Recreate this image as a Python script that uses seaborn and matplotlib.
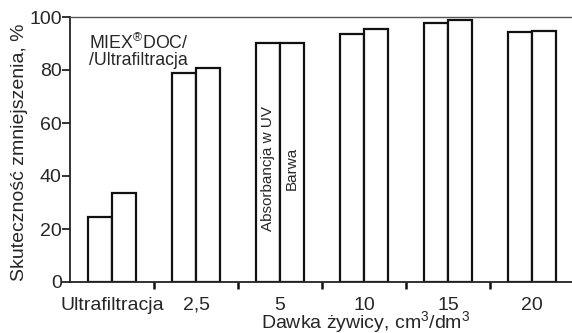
import matplotlib
matplotlib.use("Agg")
import matplotlib.pyplot as plt
import seaborn as sns
import pandas as pd
import numpy as np

categories = ["Ultrafiltracja", "2,5", "5", "10", "15", "20"]
absorbancja = [24.6, 78.7, 90.1, 93.6, 97.6, 94.2]
barwa = [33.5, 80.9, 90.1, 95.4, 98.8, 94.7]
series = ["Absorbancja w UV", "Barwa"]

sns.set_theme(style="white")
plt.rcParams['font.family'] = ['Liberation Sans', 'DejaVu Sans']
plt.rcParams['mathtext.fontset'] = 'custom'
plt.rcParams['mathtext.rm'] = 'Liberation Sans'
plt.rcParams['xtick.bottom'] = True
plt.rcParams['ytick.left'] = True

df = pd.DataFrame({
    "kat": categories * 2,
    "seria": [series[0]] * len(categories) + [series[1]] * len(categories),
    "val": absorbancja + barwa,
})

fig = plt.figure(figsize=(5.72, 3.33), dpi=100)
ax = fig.add_axes([70/572, 1 - 282/333, 1 - 70/572 + 0.004, (282 - 17)/333])

sns.barplot(data=df, x="kat", y="val", hue="seria", order=categories,
            hue_order=series, palette=["white", "white"], edgecolor="#111111",
            linewidth=1.6, width=0.57, gap=0, dodge=True, legend=False, ax=ax)

fs = 14
ax.set_xlim(-0.5, 5.5)
ax.set_ylim(0, 100)
ax.set_yticks([0, 20, 40, 60, 80, 100])
ax.set_yticklabels(["0", "20", "40", "60", "80", "100"], fontsize=fs)
ax.set_xticks(range(len(categories)))
ax.set_xticklabels(categories, fontsize=fs)
ax.set_xticks(np.arange(0.5, 5.0, 1.0), minor=True)
ax.tick_params(axis='x', which='major', bottom=True, length=0, pad=10.5)
ax.tick_params(axis='x', which='minor', bottom=True, length=5, width=1.8, color="#111111", direction='out')
ax.tick_params(axis='y', which='major', left=True, length=5.5, width=1.2, color="#111111", direction='out', pad=0.5)

for side in ["left", "bottom"]:
    ax.spines[side].set_color("#222222")
    ax.spines[side].set_linewidth(1.3)
ax.spines["top"].set_color("#555555")
ax.spines["top"].set_linewidth(1.0)
ax.spines["right"].set_visible(False)

ax.set_ylabel("Skuteczność zmniejszenia, %", fontsize=fs)
ax.yaxis.set_label_coords(-0.1, 0.49)
ax.yaxis.label.set_va("center")
ax.set_xlabel("Dawka żywicy, cm$^{\\mathregular{3}}$/dm$^{\\mathregular{3}}$", fontsize=fs)
ax.xaxis.set_label_coords(0.586, -0.155)
ax.xaxis.label.set_va("center")

ax.text(-0.27, 94, "MIEX$^{\\mathregular{®}}$DOC/\n/Ultrafiltracja", fontsize=12.8,
        ha="left", va="top", linespacing=0.95)
ax.text(2 - 0.1425, 43, series[0], rotation=90, fontsize=11, ha="center", va="center")
ax.text(2 + 0.1425, 43, series[1], rotation=90, fontsize=11, ha="center", va="center")

fig.savefig("out.png", dpi=100)
